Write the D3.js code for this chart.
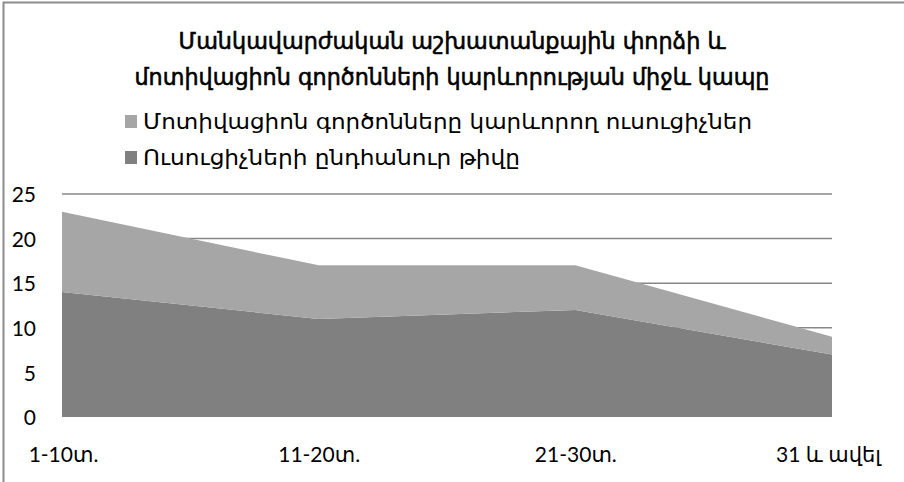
<!DOCTYPE html>
<html>
<head>
<meta charset="utf-8">
<script src="https://cdn.jsdelivr.net/npm/d3@7"></script>
<style>
  html, body { margin: 0; padding: 0; background: #fff; }
  svg { display: block; }
</style>
</head>
<body>
<div id="chart"></div>
<script>
// Experience groups (years of teaching)
const categories = ["1-10տ.", "11-20տ.", "21-30տ.", "31 և ավել"];
// Total number of teachers per group
const totalTeachers = [14, 11, 12, 7];
// Teachers who rate motivational factors as important (stacked on top)
const motivatedTeachers = [9, 6, 5, 2];
const yTicks = [0, 5, 10, 15, 20, 25];
const titleLines = [
  "Մանկավարժական աշխատանքային փորձի և",
  "մոտիվացիոն գործոնների կարևորության միջև կապը"
];
const seriesNames = [
  "Մոտիվացիոն գործոնները կարևորող ուսուցիչներ",
  "Ուսուցիչների ընդհանուր թիվը"
];

const W = 904, H = 482;
const armFont = "'DejaVu Sans', sans-serif";
const numFont = "Lato, 'DejaVu Sans', sans-serif";

const svg = d3.select("#chart").append("svg")
  .attr("width", W).attr("height", H);

// chart frame
svg.append("rect")
  .attr("x", 3.5).attr("y", 2.5)
  .attr("width", W + 10).attr("height", H + 10)
  .attr("fill", "#fff").attr("stroke", "#8c8c8c").attr("stroke-width", 2);

const plot = { left: 62, right: 832, top: 194, bottom: 417 };

const x = d3.scalePoint().domain(categories).range([plot.left, plot.right]);
const y = d3.scaleLinear().domain([0, 25]).range([plot.bottom, plot.top]);

// gridlines
svg.append("g").selectAll("line").data(yTicks.filter(d => d > 0)).join("line")
  .attr("x1", plot.left).attr("x2", plot.right)
  .attr("y1", d => y(d)).attr("y2", d => y(d))
  .attr("stroke", "#878787").attr("stroke-width", 1.5);

// stacked areas
const rows = categories.map((c, i) => ({ cat: c, total: totalTeachers[i], motivated: motivatedTeachers[i] }));
const stack = d3.stack().keys(["total", "motivated"]);
const layers = stack(rows);
const colors = { total: "#808080", motivated: "#a6a6a6" };

const area = d3.area()
  .x(d => x(d.data.cat))
  .y0(d => y(d[0]))
  .y1(d => y(d[1]));

svg.append("g").selectAll("path").data(layers).join("path")
  .attr("d", area)
  .attr("fill", d => colors[d.key]);

// y axis labels
const yAxis = d3.axisLeft(y).tickValues(yTicks).tickSize(0).tickPadding(0);
const yg = svg.append("g").attr("transform", `translate(36,1)`).call(yAxis);
yg.select(".domain").remove();
yg.selectAll("text")
  .attr("font-family", numFont).attr("font-size", 21).attr("fill", "#000");

// x axis labels
const xAxis = d3.axisBottom(x).tickSize(0).tickPadding(0);
const xg = svg.append("g").attr("transform", `translate(0,${plot.bottom + 30})`).call(xAxis);
xg.select(".domain").remove();
xg.selectAll("text")
  .attr("font-family", numFont).attr("font-size", 21).attr("fill", "#000");
xg.selectAll(".tick").filter((d, i) => i === 0).select("text").attr("dx", 1);
xg.selectAll(".tick").filter((d, i) => i === categories.length - 1).select("text").attr("dx", -4);

// title
const titleWidths = [547, 635];
svg.append("g").selectAll("text").data(titleLines).join("text")
  .attr("x", 452).attr("y", (d, i) => 49 + i * 36)
  .attr("text-anchor", "middle")
  .attr("font-family", armFont).attr("font-size", 23)
  .attr("textLength", (d, i) => titleWidths[i])
  .attr("lengthAdjust", "spacingAndGlyphs")
  .attr("fill", "#000").attr("stroke", "#000").attr("stroke-width", 0.6)
  .text(d => d);

// legend
const legendColors = [colors.motivated, colors.total];
const legendWidths = [609, 377];
const lg = svg.append("g").selectAll("g").data(seriesNames).join("g")
  .attr("transform", (d, i) => `translate(125, ${129 + i * 36})`);
lg.append("rect")
  .attr("x", 0).attr("y", -14).attr("width", 12).attr("height", 13)
  .attr("fill", (d, i) => legendColors[i]);
lg.append("text")
  .attr("x", 18).attr("y", 0)
  .attr("font-family", armFont).attr("font-size", 22).attr("fill", "#000")
  .attr("textLength", (d, i) => legendWidths[i])
  .attr("lengthAdjust", "spacingAndGlyphs")
  .text(d => d);
</script>
</body>
</html>
